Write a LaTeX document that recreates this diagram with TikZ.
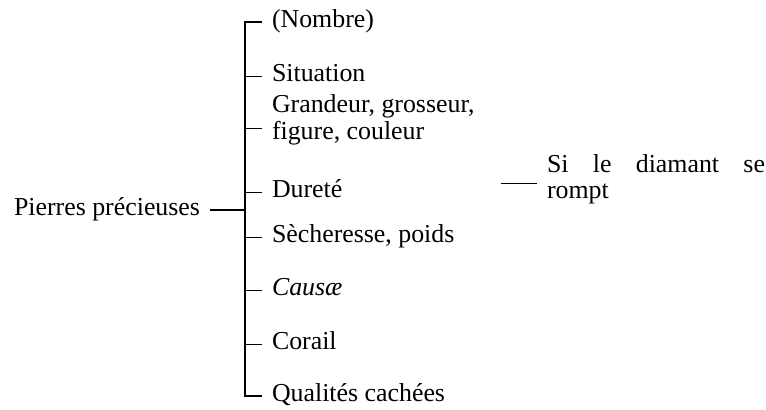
\documentclass[tikz,border=0pt]{standalone}
\usepackage{fontspec}
\setmainfont{Liberation Serif}
\begin{document}
\begin{tikzpicture}[x=0.5pt,y=-0.5pt,
  every node/.style={inner sep=0pt, outer sep=0pt, font=\fontsize{12.93}{13.3}\selectfont},
  item/.style={anchor=base west, text height=9pt, text depth=3.3pt},
  multi/.style={anchor=base west, align=left},
  tick/.style={line width=0.5pt},
  barline/.style={line width=0.6pt},
  rootline/.style={line width=1pt}]
\useasboundingbox (0,0) rectangle (766,409);
\coordinate (bar) at (245,0);
\node[item] (n1) at (272,27.7) {(Nombre)};
\node[item] (n2) at (272,81.7) {Situation};
\node[multi] (n3) at (272,139.3) {Grandeur, grosseur,\\figure, couleur};
\node[item] (n4) at (272,197.7) {Dureté};
\node[item] (n5) at (272,242.7) {Sècheresse, poids};
\node[item] (n6) at (272,295.7) {\itshape Causæ};
\node[item] (n7) at (272,349.7) {Corail};
\node[item] (n8) at (272,401.7) {Qualités cachées};
\node[item, anchor=base east] (root) at (200,215.5) {Pierres précieuses};
\node[multi] (d) at (547,198.6) {\makebox[109pt][s]{Si le diamant se}\\rompt};
% bracket
\draw[barline] ([xshift=-5pt]n1.west) -| (bar |- n8.west) -- ([xshift=-5pt]n8.west);
\foreach \n in {n2,n4,n5,n6,n7}
  \draw[tick] (bar |- \n.west) -- ([xshift=-5pt]\n.west);
\coordinate (g) at (262,128);
\draw[tick] (bar |- g) -- (g);
\draw[rootline] ([xshift=5pt]root.east) -- (bar |- root.east);
\coordinate (dl) at (501,183);
\coordinate (de) at ([xshift=-5pt]d.west);
\draw[tick] (dl) -- (de |- dl);
\end{tikzpicture}
\end{document}
